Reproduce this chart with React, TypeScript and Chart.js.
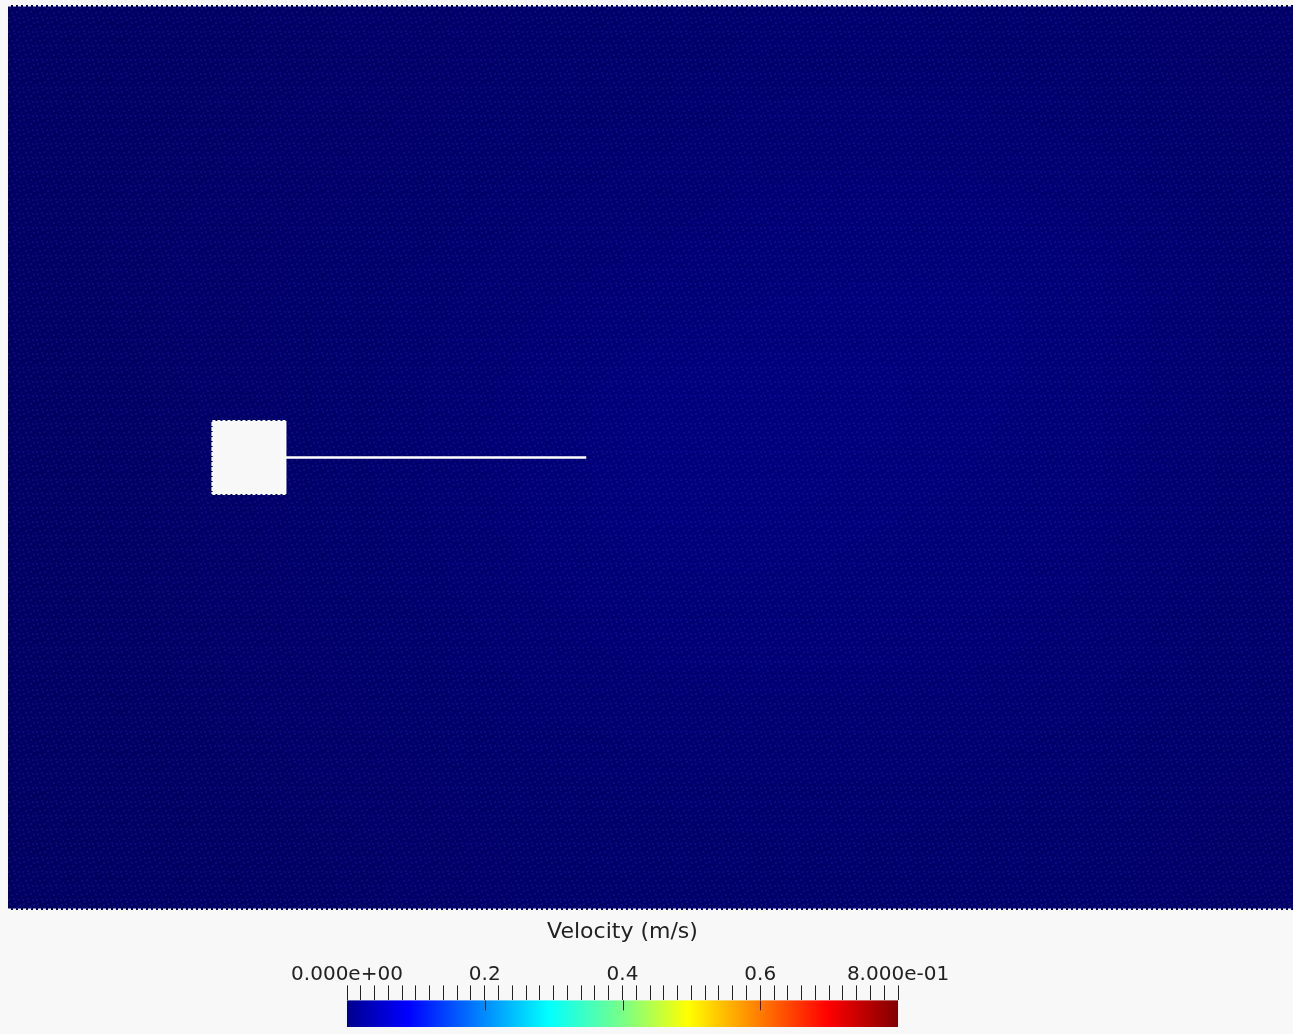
import React, { useEffect, useRef } from "react";
import { Chart, registerables } from "chart.js";

Chart.register(...registerables);

// ---------- data (metres, m/s) ----------
const FIELD_X: number[] = [0, 1.76];
const FIELD_Y: number[] = [0, 1.24];
// velocity magnitude, rows from top (y = 1.24) to bottom (y = 0)
const VEL_ROW_0: number[] = [0.005, 0.006, 0.008, 0.010, 0.012, 0.014, 0.016, 0.016, 0.015, 0.013, 0.010];
const VEL_ROW_1: number[] = [0.006, 0.008, 0.010, 0.013, 0.016, 0.019, 0.022, 0.023, 0.022, 0.018, 0.013];
const VEL_ROW_2: number[] = [0.006, 0.009, 0.012, 0.016, 0.021, 0.026, 0.029, 0.031, 0.030, 0.024, 0.016];
const VEL_ROW_3: number[] = [0.005, 0.008, 0.012, 0.017, 0.026, 0.034, 0.034, 0.033, 0.031, 0.025, 0.017];
const VEL_ROW_4: number[] = [0.005, 0.008, 0.012, 0.017, 0.026, 0.033, 0.033, 0.031, 0.028, 0.023, 0.016];
const VEL_ROW_5: number[] = [0.005, 0.008, 0.011, 0.015, 0.021, 0.026, 0.027, 0.026, 0.024, 0.020, 0.014];
const VEL_ROW_6: number[] = [0.004, 0.006, 0.009, 0.012, 0.016, 0.019, 0.020, 0.020, 0.019, 0.016, 0.012];
const VEL_ROW_7: number[] = [0.003, 0.005, 0.007, 0.009, 0.012, 0.014, 0.015, 0.015, 0.014, 0.012, 0.009];
const VELOCITY_GRID: number[][] = [VEL_ROW_0, VEL_ROW_1, VEL_ROW_2, VEL_ROW_3, VEL_ROW_4, VEL_ROW_5, VEL_ROW_6, VEL_ROW_7];

const SQUARE_X: number[] = [0.28, 0.38];
const SQUARE_Y: number[] = [0.57, 0.67];
const PLATE_X: number[] = [0.38, 0.792];
const PLATE_Y = 0.62;

const CBAR_MIN = 0;
const CBAR_MAX = 0.8;
const CBAR_STEP = 0.02;
const CBAR_MAJOR: number[] = [0.2, 0.4, 0.6];
const CBAR_LABEL_VALUES: number[] = [0, 0.2, 0.4, 0.6, 0.8];
const CBAR_LABEL_TEXT: string[] = ["0.000e+00", "0.2", "0.4", "0.6", "8.000e-01"];
const TITLE = "Velocity (m/s)";

// ParaView "Jet" colour map control points: [t, r, g, b]
const JET: number[][] = [
  [0.0, 0, 0, 0.5625],
  [0.111111, 0, 0, 1],
  [0.365079, 0, 1, 1],
  [0.507937, 0.5, 1, 0.5],
  [0.619048, 1, 1, 0],
  [0.873016, 1, 0, 0],
  [1.0, 0.5, 0, 0],
];
const FIELD_SHADE = 0.66;
const FONT = "'DejaVu Sans', sans-serif";

function jet(t: number): number[] {
  const tt = Math.max(0, Math.min(1, t));
  for (let i = 1; i < JET.length; i++) {
    if (tt <= JET[i][0]) {
      const a = JET[i - 1], b = JET[i];
      const f = (tt - a[0]) / (b[0] - a[0]);
      return [a[1] + (b[1] - a[1]) * f, a[2] + (b[2] - a[2]) * f, a[3] + (b[3] - a[3]) * f];
    }
  }
  const l = JET[JET.length - 1];
  return [l[1], l[2], l[3]];
}

const fieldPlugin = {
  id: "velocityField",
  beforeDatasetsDraw(chart: any) {
    const { ctx, scales } = chart;
    const xs = scales.x, ys = scales.y;
    const rows = VELOCITY_GRID.length;
    const cols = VELOCITY_GRID[0].length;
    const off = document.createElement("canvas");
    off.width = cols;
    off.height = rows;
    const octx = off.getContext("2d")!;
    const img = octx.createImageData(cols, rows);
    for (let r = 0; r < rows; r++) {
      for (let c = 0; c < cols; c++) {
        const col = jet((VELOCITY_GRID[r][c] - CBAR_MIN) / (CBAR_MAX - CBAR_MIN));
        const k = (r * cols + c) * 4;
        img.data[k] = Math.round(col[0] * 255 * FIELD_SHADE);
        img.data[k + 1] = Math.round(col[1] * 255 * FIELD_SHADE);
        img.data[k + 2] = Math.round(col[2] * 255 * FIELD_SHADE);
        img.data[k + 3] = 255;
      }
    }
    octx.putImageData(img, 0, 0);
    const x0 = xs.getPixelForValue(FIELD_X[0]);
    const x1 = xs.getPixelForValue(FIELD_X[1]);
    const y0 = ys.getPixelForValue(FIELD_Y[1]);
    const y1 = ys.getPixelForValue(FIELD_Y[0]);
    ctx.save();
    ctx.imageSmoothingEnabled = true;
    (ctx as any).imageSmoothingQuality = "high";
    ctx.drawImage(off, x0, y0, x1 - x0, y1 - y0);
    // mesh-node speckle
    const tile = document.createElement("canvas");
    tile.width = 14;
    tile.height = 14;
    const tctx = tile.getContext("2d")!;
    tctx.fillStyle = "rgba(60,60,255,0.16)";
    const dots = [[1, 2], [6, 0], [11, 3], [3, 7], [8, 6], [13, 9], [0, 12], [5, 11], [10, 12]];
    dots.forEach(([dx, dy]) => tctx.fillRect(dx, dy, 2, 2));
    tctx.fillStyle = "rgba(0,0,0,0.10)";
    [[4, 4], [9, 9], [12, 0], [2, 10]].forEach(([dx, dy]) => tctx.fillRect(dx, dy, 1, 1));
    const pat = ctx.createPattern(tile, "repeat");
    if (pat) {
      ctx.fillStyle = pat;
      ctx.fillRect(x0, y0, x1 - x0, y1 - y0);
    }
    ctx.restore();
  },
};

const colorbarPlugin = {
  id: "colorbar",
  beforeDatasetsDraw(chart: any) {
    const { ctx, chartArea, scales } = chart;
    const xs = scales.x;
    const left = xs.getPixelForValue(CBAR_MIN);
    const right = xs.getPixelForValue(CBAR_MAX);
    const g = ctx.createLinearGradient(left, 0, right, 0);
    JET.forEach((p) => {
      g.addColorStop(p[0], `rgb(${Math.round(p[1] * 255)},${Math.round(p[2] * 255)},${Math.round(p[3] * 255)})`);
    });
    ctx.save();
    ctx.fillStyle = g;
    ctx.fillRect(left, chartArea.top, right - left, chartArea.bottom - chartArea.top);
    ctx.strokeStyle = "#222";
    ctx.lineWidth = 1;
    CBAR_MAJOR.forEach((v) => {
      const px = Math.round(xs.getPixelForValue(v)) + 0.5;
      ctx.beginPath();
      ctx.moveTo(px, chartArea.top);
      ctx.lineTo(px, chartArea.top + 10);
      ctx.stroke();
    });
    ctx.restore();
  },
};

function labelFor(v: number): string {
  for (let i = 0; i < CBAR_LABEL_VALUES.length; i++) {
    if (Math.abs(v - CBAR_LABEL_VALUES[i]) < 1e-6) return CBAR_LABEL_TEXT[i];
  }
  return "";
}

export default function App() {
  const fieldRef = useRef<HTMLCanvasElement | null>(null);
  const barRef = useRef<HTMLCanvasElement | null>(null);

  useEffect(() => {
    document.documentElement.style.overflow = "hidden";
    const dashed = [3, 2];
    const field = new Chart(fieldRef.current!, {
      type: "scatter",
      data: {
        datasets: [
          {
            label: "obstacle fill",
            data: [
              { x: SQUARE_X[0], y: SQUARE_Y[1] },
              { x: SQUARE_X[1], y: SQUARE_Y[1] },
            ],
            showLine: true,
            fill: { value: SQUARE_Y[0] },
            backgroundColor: "#f8f8f8",
            borderWidth: 0,
            borderColor: "rgba(0,0,0,0)",
            pointRadius: 0,
          } as any,
          {
            label: "obstacle edge",
            data: [
              { x: SQUARE_X[0], y: SQUARE_Y[0] },
              { x: SQUARE_X[1], y: SQUARE_Y[0] },
              { x: SQUARE_X[1], y: SQUARE_Y[1] },
              { x: SQUARE_X[0], y: SQUARE_Y[1] },
              { x: SQUARE_X[0], y: SQUARE_Y[0] },
            ],
            showLine: true,
            fill: false,
            borderColor: "#ffffff",
            borderWidth: 2,
            pointRadius: 0,
            segment: {
              borderDash: (c: any) => (c.p0DataIndex === 1 ? [] : dashed),
            },
          } as any,
          {
            label: "flap",
            data: [
              { x: PLATE_X[0], y: PLATE_Y },
              { x: PLATE_X[1], y: PLATE_Y },
            ],
            showLine: true,
            borderColor: "#ffffff",
            borderWidth: 2.5,
            pointRadius: 0,
          },
          {
            label: "top wall",
            data: [
              { x: FIELD_X[0], y: FIELD_Y[1] },
              { x: FIELD_X[1], y: FIELD_Y[1] },
            ],
            showLine: true,
            borderColor: "#ffffff",
            borderWidth: 3,
            borderDash: dashed,
            pointRadius: 0,
            clip: false,
          } as any,
          {
            label: "bottom wall",
            data: [
              { x: FIELD_X[0], y: FIELD_Y[0] },
              { x: FIELD_X[1], y: FIELD_Y[0] },
            ],
            showLine: true,
            borderColor: "#ffffff",
            borderWidth: 3,
            borderDash: dashed,
            pointRadius: 0,
            clip: false,
          } as any,
        ],
      },
      options: {
        animation: false,
        responsive: false,
        events: [],
        layout: { padding: 0 },
        plugins: { legend: { display: false }, tooltip: { enabled: false }, title: { display: false } },
        scales: {
          x: { type: "linear", min: FIELD_X[0], max: FIELD_X[1], display: false },
          y: { type: "linear", min: FIELD_Y[0], max: FIELD_Y[1], display: false },
        },
      },
      plugins: [fieldPlugin],
    });

    const bar = new Chart(barRef.current!, {
      type: "scatter",
      data: { datasets: [{ label: "scale", data: [], pointRadius: 0 }] },
      options: {
        animation: false,
        responsive: false,
        events: [],
        layout: { padding: { left: 347, right: 395, top: 9, bottom: 7 } },
        plugins: {
          legend: { display: false },
          tooltip: { enabled: false },
          title: {
            display: true,
            text: TITLE,
            color: "#222",
            font: { family: FONT, size: 22, weight: "normal" },
            padding: { top: 0, bottom: 18 },
          },
        },
        scales: {
          x: {
            type: "linear",
            position: "top",
            min: CBAR_MIN,
            max: CBAR_MAX,
            border: { display: false },
            grid: { drawOnChartArea: false, drawTicks: true, tickLength: 15, color: "#222", lineWidth: 1 },
            ticks: {
              stepSize: CBAR_STEP,
              autoSkip: false,
              maxRotation: 0,
              padding: -1,
              color: "#222",
              font: { family: FONT, size: 20 },
              callback: (v: any) => labelFor(Number(v)),
            },
          },
          y: { display: false, min: 0, max: 1 },
        },
      },
      plugins: [colorbarPlugin],
    });

    return () => {
      field.destroy();
      bar.destroy();
    };
  }, []);

  return (
    <div style={{ position: "absolute", left: 0, top: 0, width: 1293, height: 1034, background: "#f8f8f8", overflow: "hidden" }}>
      <canvas ref={fieldRef} width={1285} height={905} style={{ position: "absolute", left: 8, top: 5, width: 1285, height: 905 }} />
      <canvas ref={barRef} width={1293} height={124} style={{ position: "absolute", left: 0, top: 910, width: 1293, height: 124 }} />
    </div>
  );
}
